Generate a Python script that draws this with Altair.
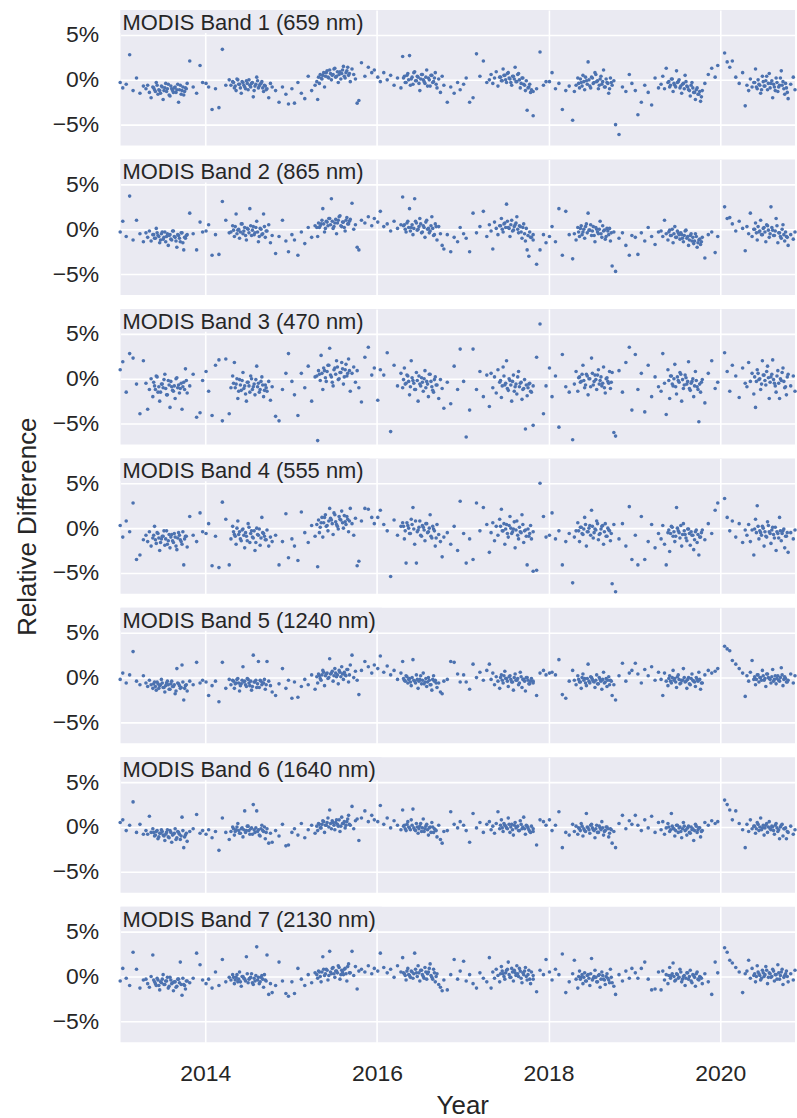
import altair as alt
import pandas as pd

# observation dates, in hundredths of a year after 2013.00
t_hundredths = [
    1, 4, 8, 12, 16, 20, 24, 28, 31, 33, 35, 37, 39, 41, 43, 45, 47, 49, 51, 53, 55, 57, 59, 61, 63, 65, 67, 69, 71, 73, 75, 77, 79, 82, 86, 90, 94, 97,
    101, 104, 108, 112, 116, 120, 124, 128, 130, 132, 134, 136, 138, 140, 142, 144, 146, 148, 150, 152, 154, 156, 158, 160, 162, 164, 166, 168, 170, 172, 174, 176, 178, 182, 186, 190, 194, 197,
    201, 204, 208, 212, 216, 220, 224, 228, 231, 233, 235, 237, 239, 241, 243, 245, 247, 249, 251, 253, 255, 257, 259, 261, 263, 265, 267, 269, 271, 273, 275, 277, 279, 282, 286, 290, 294, 297,
    301, 304, 308, 312, 316, 320, 324, 328, 330, 332, 334, 336, 338, 340, 342, 344, 346, 348, 350, 352, 354, 356, 358, 360, 362, 364, 366, 368, 370, 372, 374, 376, 378, 382, 386, 390, 394, 397,
    401, 404, 408, 412, 416, 420, 424, 428, 431, 433, 435, 437, 439, 441, 443, 445, 447, 449, 451, 453, 455, 457, 459, 461, 463, 465, 467, 469, 471, 473, 475, 477, 479, 482, 486, 490, 494, 497,
    501, 504, 508, 512, 516, 520, 524, 528, 530, 532, 534, 536, 538, 540, 542, 544, 546, 548, 550, 552, 554, 556, 558, 560, 562, 564, 566, 568, 570, 572, 574, 576, 578, 582, 586, 590, 594, 597,
    601, 604, 608, 612, 616, 620, 624, 628, 631, 633, 635, 637, 639, 641, 643, 645, 647, 649, 651, 653, 655, 657, 659, 661, 663, 665, 667, 669, 671, 673, 675, 677, 679, 682, 686, 690, 694, 697,
    705, 708, 711, 714, 718, 722, 726, 729, 731, 733, 735, 737, 739, 741, 743, 745, 747, 749, 751, 753, 755, 757, 759, 761, 763, 765, 767, 769, 771, 773, 775, 777, 779, 782, 785, 787,
]
# extra dates inside the dense mid-year clusters
t_dense = [
    40, 42, 44, 46, 48, 50, 52, 54, 56, 58, 60, 62, 64, 66, 68, 70, 72, 74, 76, 78,
    133, 135, 137, 139, 141, 143, 145, 147, 149, 151, 153, 155, 157, 159, 161, 163, 165, 167, 169, 171,
    230, 232, 234, 236, 238, 240, 242, 244, 246, 248, 250, 252, 254, 256, 258, 260, 262, 264, 266, 268,
    331, 333, 335, 337, 339, 341, 343, 345, 347, 349, 351, 353, 355, 357, 359, 361, 363, 365, 367, 369,
    444, 446, 448, 450, 452, 454, 456, 458, 460, 462, 464, 466, 468, 470, 472, 474, 476, 478, 480, 482,
    535, 537, 539, 541, 543, 545, 547, 549, 551, 553, 555, 557, 559, 561, 563, 565, 567, 569, 571, 573,
    640, 642, 644, 646, 648, 650, 652, 654, 656, 658, 660, 662, 664, 666, 668, 670, 672, 674, 676, 678,
    740, 742, 744, 746, 748, 750, 752, 754, 756, 758, 760, 762, 764, 766, 768, 770, 772, 774, 776, 778,
]

# relative differences, in tenths of a percent
band1 = [
    -3, -9, -5, 28, -12, 2, -15, -7, -10, -6, -14, -20, -8, -11, -3, -16, -12, -7, -22, -9, -13, -5, -18, -10, -14, -8, -11, -25, -6, -12, -17, -9, -4, 21, -8, -15, 16, -3,
    -4, -8, -33, -10, -31, 34, -6, 0, -6, -2, -9, -12, 0, -5, -15, -3, -8, -1, -11, -6, -4, -19, -7, 3, -9, -5, -2, -13, -7, -10, -20, -4, -8, -12, -25, -8, -16, -27,
    -10, -26, -3, -15, -21, 4, -12, -6, -22, -4, 2, 5, -8, 8, 3, 11, 0, 6, 13, 4, -3, 9, 7, 15, 2, 10, 5, -2, 12, 6, 1, -26, -23, 19, 4, 14, 8, 11,
    3, -2, 8, 0, 5, -6, 2, -9, 26, 4, -3, 7, 27, 1, -5, 9, -1, 3, -12, 6, 0, -4, 11, 2, -7, 5, -2, 8, -9, 1, -14, 4, -6, -25, -8, -15, -3, -11,
    -5, 2, -25, -20, 29, 4, 21, -3, 0, 6, -4, 2, 9, -7, 3, -1, 12, 5, -3, 8, 1, -6, 4, 14, -2, 7, -9, 2, -5, -12, -34, -8, -14, -40, -10, 31, -6, -2,
    -2, 8, -10, -4, -33, -12, -7, -45, -13, -6, 2, -9, -3, 5, -11, -1, 20, -7, 3, -4, 8, -2, -10, 1, -5, 11, -8, -3, -15, 2, -6, -1, -50, -61, -8, -13, 6, -4,
    -12, -39, -25, -6, -14, -28, 2, -9, -5, 4, -10, 13, -3, -8, 1, -13, -6, 10, -2, -9, -15, -4, 5, -7, -11, -18, -3, -14, -22, -9, -16, -24, -12, -4, 6, 13, 3, 16,
    30, 20, 14, 21, 3, -4, 8, -29, -6, -12, 1, -8, -3, 12, -10, -5, -15, 4, -7, -1, -11, 7, -4, -20, -8, 2, -13, -6, 10, -2, -16, -9, -21, -5, 3, -11,
]
band1_dense = [
    -9, -13, -6, -11, -15, -8, -12, -4, -10, -17, -7, -12, -9, -14, -5, -11, -16, -8, -13, -10,
    -3, -7, 1, -5, -9, -2, -6, -10, -4, 0, -8, -3, -12, -5, -1, -7, -4, -9, -6, -11,
    -2, 3, 6, 1, 8, 4, 10, 2, 7, 5, 12, 3, 9, 6, 1, 11, 4, 8, 14, 7,
    2, -3, 5, 0, -6, 3, 8, -1, 4, -4, 1, 6, -2, 3, -7, 0, 5, -3, 2, -5,
    3, -1, 5, 0, 7, 2, -3, 4, 1, -2, 6, 0, -4, 2, -6, -1, -9, -5, -11, -13,
    -4, 1, -7, -2, 3, -5, 0, -9, 2, -3, 6, -1, -6, 4, -2, -8, 1, -4, -10, -3,
    -2, -6, 1, -4, -8, -3, 0, -7, -5, -10, -2, -8, -12, -6, -9, -14, -11, -16, -13, -19,
    -3, -8, 0, -6, -11, -2, -7, 4, -4, -9, -1, -5, -12, -3, -8, 2, -6, -10, -4, -14,
]
band2 = [
    -3, 9, -8, 37, -12, 10, -5, -14, -4, -9, -2, -13, -6, -10, 1, -7, -15, -5, -11, -3, -8, -18, -6, -12, -2, -9, -20, -7, -14, -4, -23, -10, -6, 18, -5, -23, 8, -3,
    -2, 5, -29, -6, -28, 31, 10, -4, -3, 4, -8, 17, -1, -10, 6, -5, 2, -12, 0, 23, -7, 3, -4, 9, -14, 1, -6, 17, -9, -2, 5, -15, -7, -27, -8, 10, -13, -25,
    -6, -12, -29, -3, -16, 2, -9, 4, -8, 2, 6, 23, -3, 9, 4, 12, 34, 1, 7, -5, 10, 15, 3, 8, -2, 13, 6, 11, 29, 0, 5, -20, -23, 10, 7, 14, 4, 12,
    8, 20, 3, 6, -2, 9, 1, 5, 36, 5, -3, 9, 23, 2, -6, 34, 7, 0, 12, -4, 4, -9, 10, 1, -2, 14, -7, 6, -12, 3, -5, -18, -22, -6, -25, -9, -14, 2,
    -5, -10, -25, 18, -4, 3, 20, -8, 5, -2, -22, 8, 1, -6, 4, 12, -3, 7, 28, 2, -8, 10, -1, 5, 14, -4, 3, -10, 6, -13, -23, -30, -9, -12, -39, -23, -6, -15,
    -8, 3, -14, 23, -29, 20, -6, -33, -5, -12, 2, -8, 4, -3, -10, 6, 18, -1, -7, 3, -14, 0, -5, 9, -9, -2, -11, 1, -6, -13, -41, -3, -47, -10, -4, -18, -29, -7,
    -9, -28, -4, -13, 2, -8, -17, -3, -2, -8, 10, -5, -12, -1, -7, -15, 3, -9, -4, -11, -6, -14, -2, -10, -18, -7, -13, -16, -5, -20, -12, -17, -9, -32, -6, -3, -26, -8,
    25, 12, 13, 6, -2, 9, 1, -24, 3, -5, 18, -8, 0, 7, -12, -3, 10, -6, 2, -14, 4, -9, 25, -1, -7, 12, -15, -4, -10, 5, -13, -8, -18, -6, -11, -3,
]
band2_dense = [
    -6, -10, -4, -8, -12, -3, -9, -14, -5, -7, -11, -2, -8, -13, -6, -10, -4, -15, -9, -7,
    -1, 3, -5, 0, -3, 6, -2, -7, 1, -4, 4, -1, -6, 2, -3, -8, 0, -5, 3, -2,
    2, 7, 4, 10, 6, 1, 8, 12, 5, 9, 3, 11, 7, 14, 4, 8, 2, 10, 6, 9,
    4, 0, 7, 2, -2, 5, 1, 9, -1, 3, 6, -3, 2, 8, 0, -4, 4, 1, -6, 3,
    4, 0, 6, 2, 9, 1, 5, -2, 3, 7, 0, 4, -3, 2, -5, 1, -7, -3, -9, -6,
    -3, 1, -6, 0, 3, -4, -1, 5, -2, -7, 2, -3, 0, -5, 4, -1, -8, -2, 1, -4,
    -3, -7, 0, -5, -9, -2, -6, -4, -10, -7, -1, -8, -12, -5, -9, -13, -8, -15, -11, -14,
    0, -4, 3, -2, -6, 1, -3, 5, -1, -5, 2, -7, -2, 4, -4, -8, 0, -6, -3, -9,
]
band3 = [
    10, 19, -15, 28, 23, -6, -39, 20, -5, -34, -12, 0, -20, -8, 3, -15, -25, -6, -10, 5, -18, -2, -32, -9, -14, -22, 1, -7, -11, -34, -4, 11, -16, -8, 5, -43, -38, -2,
    8, -14, -41, 15, 21, -47, 22, -39, -10, 3, 18, -6, -22, -1, -13, 7, -8, -25, -4, -15, 0, -9, -18, 14, -5, -12, 2, -20, -7, -14, -3, -24, -9, -42, -47, -12, 6, 28,
    -3, -18, -41, 6, -10, 14, -25, 2, -69, 5, 26, -12, 9, -3, 15, 34, 2, -8, 12, 20, -1, 7, 18, -6, 10, 3, 22, -14, 6, 13, -4, 9, -10, -26, 24, 35, 4, 12,
    -24, 10, 4, 29, -59, 15, -8, 6, -10, 12, -5, 3, -18, 20, -2, -12, 7, -25, -6, 1, -14, 9, -3, -20, 5, -9, -15, 2, -7, -22, -1, -11, -33, -4, -28, 14, -12, 33,
    -3, -65, -35, 33, -12, 8, -20, 4, -31, 6, -10, 2, -16, 10, -4, -21, 13, -7, 20, -13, -2, -25, 4, -9, -17, 8, -5, -23, -11, -56, -19, -6, -14, -52, 24, 61, -39, -8,
    12, -20, 3, -54, 27, -9, -15, -68, -6, 8, -14, 2, -3, 15, -10, 5, -18, 0, 23, -7, 4, -12, 10, -2, -8, 13, -16, 1, -5, -11, 7, -60, -64, 9, -15, 18, 35, -35,
    27, -12, 6, -37, 15, -20, 2, -9, -14, 28, -5, -40, 10, -22, 3, -8, 16, -17, -2, 7, -25, -11, 4, -6, 19, -13, -3, -20, 8, -9, -48, -15, -1, -27, 6, 20, -11, -4,
    29, 8, -14, 15, 3, -21, 12, -5, -9, 18, -3, 6, -17, -32, 10, -1, -12, 20, 4, -7, 14, -22, 2, 21, -5, -15, 9, -22, -2, 12, -10, -18, 5, -8, 3, -14,
]
band3_dense = [
    -4, -12, 2, -9, -15, -6, -1, -11, -18, -7, -3, -13, -8, 0, -10, -16, -5, -9, -12, -2,
    -5, -10, 0, -14, -7, -2, -11, -17, -4, -8, 3, -12, -6, -1, -9, -15, -3, -7, -13, -10,
    3, 9, -2, 6, 12, 1, 8, 15, 4, -4, 10, 5, 13, 0, 7, 11, 2, 16, 6, 9,
    -1, -6, 4, -3, -9, 1, -5, -12, -2, 3, -8, -4, 0, -10, -6, 5, -3, -13, -1, -7,
    -2, -8, 3, -5, -11, 0, -7, -3, -14, -6, 2, -9, -4, -12, -1, -7, -10, -5, -15, -8,
    1, -4, 5, -2, -7, 3, 0, -9, 6, -3, -1, 4, -6, 2, -5, -10, 0, -3, 8, -4,
    -2, 3, -6, 0, -9, 2, -4, 5, -1, -7, 1, -3, -11, -5, 0, -8, -2, -12, -6, -4,
    2, -3, 6, 0, -6, 4, -2, 8, 1, -4, 5, -1, -8, 3, -5, 0, 7, -3, -9, 2,
]
band4 = [
    3, -10, 8, -4, 28, -35, -30, -13, -8, -15, -4, -20, -11, 2, -17, -6, -25, -12, -9, -19, -3, -14, -22, -7, -16, -10, -24, -5, -13, -18, -41, -9, -21, 13, -8, -15, 17, -4,
    -6, 5, -42, -9, -44, 29, 10, -41, -12, 2, -7, -18, 8, -4, -14, -1, -22, -9, 5, -16, -3, -11, -25, 0, -8, -19, 12, -6, -13, -2, -20, -10, -15, -8, -41, -15, 16, -33,
    -12, -20, -36, 18, -5, -16, 3, -9, -43, -5, 6, -10, 12, 2, -3, 22, 9, -7, 15, 4, -1, 10, 19, 0, 7, 13, -4, 22, 5, -8, 11, -42, -37, 8, 22, 21, 12, 5,
    12, 20, 4, -3, -54, 9, -8, 2, 6, -12, -39, 3, -6, 10, 23, -18, -39, -2, 8, -9, 1, -14, 5, -4, 15, -11, -1, -20, 4, -7, -15, -32, -10, -5, -18, 2, -25, 30,
    -6, -39, -12, -35, 28, -3, 23, 4, -27, -5, 6, -14, 2, -8, 10, 21, -3, -18, 4, -10, 13, -6, -1, -22, 8, -12, -4, 15, -16, -2, -41, -9, 3, -48, -47, 50, 13, -10,
    -8, 17, -12, -3, -41, -15, -6, -61, -10, -3, 6, -15, 1, -7, 12, -20, -4, 3, 20, -11, -1, 8, -13, -6, 2, -18, 5, -9, -2, -14, -62, 4, -71, -12, 5, -20, 24, -35,
    -8, -41, 13, -35, -15, 4, -22, -6, -12, 3, -18, -41, -5, -26, 2, -9, -15, 23, -3, -11, -20, 5, -7, -14, -1, -19, -8, -24, -4, -16, -30, -10, -2, -13, 5, -6, 20, 28,
    33, 12, -3, 8, -10, 5, -16, -2, -8, 4, -15, -2, -30, 10, 25, -12, -5, 2, -20, -9, 7, -4, -17, 1, -11, -25, -6, 12, -14, -3, -22, -9, -27, -5, -12, -2,
]
band4_dense = [
    -8, -13, -5, -11, -16, -9, -3, -12, -18, -7, -10, -14, -6, -20, -11, -8, -15, -4, -12, -9,
    -4, -9, 0, -7, -12, -2, -8, -5, -14, 1, -6, -10, -3, -16, -7, -1, -11, -5, -9, -13,
    4, 9, 1, 12, 6, 15, 3, 8, 11, 5, 17, 7, 2, 13, 9, 6, 14, 4, 10, 8,
    2, -3, 6, 0, -6, 4, -1, 8, -4, 1, -8, 3, -2, 5, -5, 0, -9, 2, -3, -11,
    2, -3, 5, -1, -6, 3, 0, -4, 7, -2, -8, 1, -5, 4, -3, -9, -1, -6, -12, -4,
    -3, 1, -6, -1, 4, -4, 0, -8, 2, -5, -2, 5, -7, -1, 3, -4, -9, 0, -3, -6,
    -2, -6, 1, -4, -9, 0, -5, 3, -7, -3, -11, -1, -6, -4, -8, -13, -2, -7, -10, -5,
    -1, -5, 2, -3, -8, 0, -4, -10, 3, -6, -2, -7, 1, -4, -11, -3, -6, -1, -9, -5,
]
band5 = [
    -2, 5, -6, 3, 29, -4, -8, 2, -6, -10, -3, -8, -12, -5, -14, -7, -9, -2, -11, -16, -6, -8, -13, -4, -10, -18, 10, -7, -12, 14, -25, -9, -15, -4, -8, 17, -6, -3,
    -5, -20, -9, -4, -27, 17, -12, -2, -8, -3, -12, -6, -1, -15, -7, 12, -4, -10, -2, -9, -14, 25, -5, -11, 18, -3, -8, -6, -13, 18, -4, -9, -16, -20, -7, 10, -12, -3,
    -23, -5, -22, -10, -2, -8, 3, -13, -6, 2, -3, 8, -9, 4, -1, 21, 5, -4, 10, 1, -7, 6, 12, -2, 3, 9, -5, 14, 25, 0, 7, -3, -19, 8, 18, 12, 5, 14,
    10, 24, 6, 13, 3, 8, -2, 5, 18, -3, 2, -6, -1, -9, 20, -4, 3, -12, -2, -7, 5, -5, -10, 0, -8, -14, 2, -3, -11, -6, -16, -18, -4, -2, 18, 17, 4, -5,
    3, -5, -13, 15, 0, 6, -3, 8, 15, -2, 5, -8, 1, -4, -12, 3, -6, 7, -1, -10, 2, -5, -14, 4, -3, -8, 6, -11, -2, -15, 0, -7, -4, -6, -20, 5, 8, 3,
    5, 6, 3, 20, -19, -23, -4, 8, -3, -8, 2, -5, -12, 4, -1, -9, 15, -6, 0, -4, -11, 3, -7, -2, -13, 6, -5, -10, 1, -3, -20, -8, -25, 2, 16, -4, 5, 8,
    16, 4, -6, 9, 2, 12, -3, 6, -2, -20, 5, -4, -9, 2, -6, 8, -1, -11, 3, -7, -3, 10, -5, -12, 0, -8, 4, -4, -10, -2, 6, -13, -6, 3, 8, 5, 7, 10,
    35, 32, 30, 19, 15, 10, 5, -21, 2, -4, 6, 19, -2, -8, 3, -5, 0, 8, -3, -10, 4, -1, -6, 9, -2, -7, 2, -4, 11, -9, 1, -5, -3, 4, -6, 2,
]
band5_dense = [
    -7, -10, -5, -12, -8, -6, -11, -9, -4, -13, -7, -10, -8, -15, -6, -9, -11, -5, -12, -8,
    -4, -7, -2, -6, -9, -3, -5, -8, -1, -6, -4, -10, -5, -3, -7, -11, -4, -6, -2, -8,
    1, 4, -1, 3, 6, 2, 5, 0, 4, 7, 2, 5, 3, 8, 1, 4, 6, 2, 9, 3,
    -1, -4, 1, -2, -5, 0, -3, -6, -2, -4, 2, -3, -7, -1, -5, -3, -8, -2, -4, -6,
    0, -3, 2, -1, -4, 1, -2, -5, 0, -3, -1, -6, 1, -2, -4, 0, -3, -7, -1, -4,
    -2, -5, 0, -3, -6, -1, -4, 1, -2, -5, -3, -7, 0, -4, -2, -6, -1, -3, -8, -4,
    -1, -4, 0, -3, -5, 1, -2, -6, -3, 0, -4, -2, -7, -1, -3, -5, 0, -4, -2, -6,
    1, -2, 3, 0, -3, 2, -1, 4, 0, -2, 1, -4, 2, -1, -3, 0, 3, -2, -1, -5,
]
band6 = [
    5, 8, -4, 2, 28, -6, 3, -8, -4, -8, 12, -6, -2, -10, -5, -13, -7, -3, -9, -15, -6, -11, -4, -17, -8, -2, -12, -6, -14, 11, -23, -9, -16, -5, -2, 14, -7, -4,
    -8, -3, -12, -5, -26, 10, -6, -14, -5, 0, -9, -3, 4, -7, -2, -11, 18, -4, 1, -8, -1, 25, -6, 18, -3, -10, 2, -5, -13, -2, -18, -7, -17, -4, -10, 3, -21, -20,
    -6, -2, -9, 4, -12, -3, 2, -7, -4, 3, -1, 7, -6, 2, 10, 19, -2, 5, -3, 8, 1, -5, 11, 4, -1, 6, 13, 2, 23, -2, 7, 9, -15, 10, 18, 6, 13, 8,
    6, 24, 3, 10, -1, 7, 2, -3, 19, 2, -4, 6, -1, 8, 20, -3, 4, -7, 1, -5, 9, -2, 3, -9, 0, 5, -6, -3, -11, 2, -14, -18, -5, -4, 17, 3, -1, 6,
    2, -4, -17, 15, -1, 5, -6, 3, 6, -3, 1, -7, 4, 17, -2, 8, -5, 2, -1, 10, -6, 3, -9, 5, 0, -4, 7, -2, 11, -8, 1, -3, -6, -5, -20, 8, 6, 2,
    8, -4, 2, 17, -23, -6, -9, 3, -5, 1, -8, -2, 4, -10, -4, 15, -1, -7, 3, -3, -12, 2, -6, -1, 6, -9, -4, 0, -11, -2, -18, -5, -23, 4, 13, -2, 7, 3,
    13, 2, -4, 8, -1, 12, -6, 5, -3, 6, -8, -1, 4, -5, 15, -2, -10, 2, -6, 0, -12, 5, -4, -9, 1, -7, -3, -15, 3, -6, -1, -11, -4, 5, 2, 7, 4, 6,
    30, 25, 19, 8, 18, 4, -3, -23, 3, -5, 8, -2, 1, -7, 5, -4, 10, -1, -9, 2, -6, 6, -3, 0, -8, 4, -5, -13, 2, -10, -2, -13, -6, 1, -8, -3,
]
band6_dense = [
    -6, -9, -4, -11, -7, -5, -10, -8, -3, -12, -6, -9, -7, -14, -5, -8, -10, -4, -11, -7,
    -2, -5, 0, -4, -7, -1, -3, -6, 1, -4, -2, -8, -3, -1, -5, -9, -2, -4, 0, -6,
    1, 4, -1, 3, 6, 2, 5, 0, 4, 7, 2, 5, 3, 8, 1, 4, 6, 2, 9, 3,
    1, -2, 3, 0, -3, 2, -1, -4, 0, -2, 4, -1, -5, 1, -3, -1, -6, 0, -2, -4,
    2, -1, 4, 1, -2, 3, 0, -3, 2, -1, 1, -4, 3, 0, -2, 2, -1, -5, 1, -2,
    -1, -4, 1, -2, -5, 0, -3, 2, -1, -4, -2, -6, 1, -3, -1, -5, 0, -2, -7, -3,
    0, -3, 1, -2, -4, 2, -1, -5, -2, 1, -3, -1, -6, 0, -2, -4, 1, -3, -1, -5,
    1, -2, 3, 0, -3, 2, -1, 4, 0, -2, 1, -4, 2, -1, -3, 0, 3, -2, -1, -5,
]
band7 = [
    -5, 9, -2, -10, 27, 8, -13, -4, -3, -8, -12, 0, 24, -6, -10, -4, -15, -7, 2, -9, -5, -13, -1, -8, -16, -6, -11, -3, 16, -21, -9, -14, -5, -7, -2, 26, 13, -4,
    -8, -3, -13, 5, -10, 19, -6, -1, -4, 2, -8, -1, -6, 5, -11, 0, -3, 22, -7, -2, 3, -9, -5, 33, -1, -6, 1, -12, -4, 24, -20, -8, -18, -10, 16, -5, -19, -22,
    -6, -19, 9, -3, -10, 2, -7, 4, -2, 5, -6, 22, 1, 8, -4, 28, 3, 10, -1, 6, 12, -3, 7, 2, 9, -5, 14, 4, 28, 1, 11, -14, 6, 8, 5, 12, 3, 9,
    6, 26, 10, 4, 8, -1, 12, 5, 21, 3, -4, 9, 1, 6, -2, 26, 4, 12, -5, 7, 0, 10, -3, 5, 14, -1, 8, -6, 3, -9, -12, -16, -4, -15, 2, 19, -3, 6,
    17, -5, 2, -8, -13, 4, -2, -6, 21, -13, 5, -2, 8, 1, -6, 11, 3, -3, 7, 16, -1, 9, -5, 4, 12, 0, 6, -7, 2, 10, -4, 7, -8, -3, -17, 7, 2, 19,
    5, -4, 8, 2, 25, -18, -6, 3, 18, -3, -13, 6, -1, -8, 4, -5, 2, -10, 20, -2, 7, -6, 1, -12, 5, -3, -9, 3, -4, 8, -7, -11, -20, 2, -5, 6, -2, 9,
    4, -2, 9, 16, -3, -15, -14, 5, -15, 6, -4, 2, -8, 10, 1, 15, -5, 3, -2, 8, -6, 0, -10, 4, -3, 7, -7, 1, -11, 5, -4, -1, -8, 3, -6, -20, 16, 4,
    32, 27, 18, 15, 10, 5, -18, 3, 6, 18, -2, 9, 1, -6, 12, 3, -4, 7, 0, 11, -8, 4, -1, 8, -5, 2, 13, -3, 5, -9, 1, 6, -6, 3, -4, 7,
]
band7_dense = [
    -4, -8, -2, -10, -6, -3, -9, -5, -1, -11, -4, -7, -6, -12, -3, -7, -9, -2, -10, -5,
    -1, -4, 2, -3, -6, 0, -2, -5, 3, -3, -1, -7, -2, 1, -4, -8, -1, -3, 2, -5,
    2, 6, 0, 5, 8, 3, 7, 1, 5, 9, 3, 6, 4, 10, 2, 5, 8, 3, 11, 4,
    4, 1, 6, 2, -1, 5, 3, 8, 0, 4, 7, 2, -2, 5, 3, 9, 1, -3, 4, 0,
    3, 6, 0, 4, 8, 2, -1, 5, 7, 1, 3, 9, -2, 4, 6, 0, 2, -3, 5, 1,
    0, -3, 2, -1, -5, 1, -2, 3, -4, 0, -1, -6, 2, -3, 1, -4, 0, -2, -7, -1,
    1, -2, 3, 0, -4, 2, -1, 5, -3, 1, -2, 4, 0, -5, 2, -1, 3, -3, 0, -2,
    3, 0, 5, 1, -2, 4, 2, 7, -1, 3, 0, 6, 2, -3, 4, 1, 8, -1, 3, 0,
]

band_names = [
    "MODIS Band 1 (659 nm)",
    "MODIS Band 2 (865 nm)",
    "MODIS Band 3 (470 nm)",
    "MODIS Band 4 (555 nm)",
    "MODIS Band 5 (1240 nm)",
    "MODIS Band 6 (1640 nm)",
    "MODIS Band 7 (2130 nm)",
]
bands = [
    (band1, band1_dense), (band2, band2_dense), (band3, band3_dense), (band4, band4_dense),
    (band5, band5_dense), (band6, band6_dense), (band7, band7_dense),
]
x_ticks = [2014, 2016, 2018, 2020]
y_ticks = [-0.05, 0, 0.05]

FONT = "Liberation Sans"
INK = "#262626"
BG = "#EAEAF2"
DOT = "#4C72B0"

x_scale = alt.Scale(domain=[2013.014, 2020.87], nice=False, zero=False)
y_scale = alt.Scale(domain=[-0.0733, 0.0778], nice=False, zero=False)


def rows(times, vals):
    n = min(len(times), len(vals))
    return [(2013 + t / 100, v / 1000) for t, v in zip(times[:n], vals[:n])]


panels = []
for i, (name, (vals, dense)) in enumerate(zip(band_names, bands)):
    recs = rows(t_hundredths, vals) + rows(t_dense, dense)
    df = pd.DataFrame(recs, columns=["year", "diff"])
    last = i == len(bands) - 1
    mid = i == 3
    if last:
        xax = alt.Axis(values=x_ticks, format="d", labelPadding=20, titlePadding=8,
                       title="Year", titleX=343)
    else:
        xax = alt.Axis(values=x_ticks, labels=False, title=None)
    if mid:
        yax = alt.Axis(values=y_ticks, format=".0%", labelPadding=22,
                       title="Relative Difference", titlePadding=12)
    else:
        yax = alt.Axis(values=y_ticks, format=".0%", labelPadding=22, title=None)

    pts = alt.Chart(df).mark_circle(size=13, color=DOT, opacity=1).encode(
        x=alt.X("year:Q", scale=x_scale, axis=xax),
        y=alt.Y("diff:Q", scale=y_scale, axis=yax),
    )
    lab_df = pd.DataFrame({"label": [name]})
    box_w = 250 if len(name) < 22 else 262
    box = alt.Chart(lab_df).mark_rect(color=BG).encode(
        x=alt.value(0), x2=alt.value(box_w), y=alt.value(0), y2=alt.value(23)
    )
    txt = alt.Chart(lab_df).mark_text(
        align="left", baseline="alphabetic", font=FONT, fontSize=22, color=INK
    ).encode(x=alt.value(2), y=alt.value(20), text="label:N")
    panels.append(alt.layer(pts, box, txt).properties(width=677, height=136))

chart = alt.vconcat(*panels, spacing=14, bounds="flush").properties(
    padding={"left": 14, "top": 8, "right": 0, "bottom": 0},
    background="white",
).configure_view(fill=BG, strokeWidth=0).configure_axis(
    labelFont=FONT, labelFontSize=23, labelColor=INK,
    titleFont=FONT, titleFontSize=26, titleColor=INK, titleFontWeight="normal",
    grid=True, gridColor="white", gridWidth=1.6, gridOpacity=1,
    ticks=False, tickSize=0, domain=False,
)

chart.save("out.html", embed_options={"renderer": "svg", "actions": False})
